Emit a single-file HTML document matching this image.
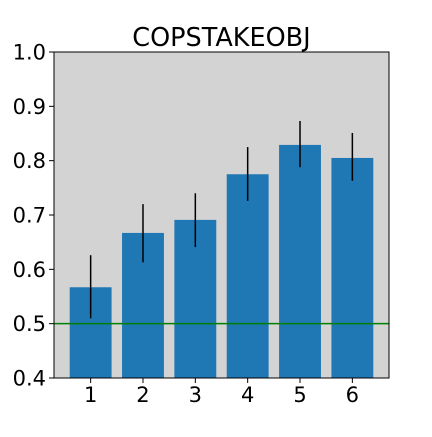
<!DOCTYPE html>
<html><head><meta charset="utf-8"><style>
body{margin:0;background:#fff;}
svg text{font-family:"DejaVu Sans","Liberation Sans",sans-serif;fill:#000;}
</style></head><body>
<svg id="chart" width="432" height="432"></svg>
<script>
const categories=["1","2","3","4","5","6"];
const values=[0.567,0.667,0.691,0.775,0.829,0.805];
const errLow=[0.510,0.613,0.641,0.726,0.788,0.763];
const errHigh=[0.626,0.720,0.740,0.825,0.873,0.851];
const yTicks=[0.4,0.5,0.6,0.7,0.8,0.9,1.0];
const baseline=0.5;
const titleText="COPSTAKEOBJ";

const L=54,R=389,T=52,B=378;
const xMin=0.3,xMax=6.7,yMin=0.4,yMax=1.0;
const xs=v=>L+(v-xMin)/(xMax-xMin)*(R-L);
const ys=v=>B-(v-yMin)/(yMax-yMin)*(B-T);
const svg=document.getElementById('chart');
const NS="http://www.w3.org/2000/svg";
function mk(tag,attrs,parent){const e=document.createElementNS(NS,tag);for(const k in attrs)e.setAttribute(k,attrs[k]);(parent||svg).appendChild(e);return e;}

const bg=mk('rect',{x:L,y:T,width:R-L,height:B-T,fill:'#d3d3d3'});



values.forEach((v,i)=>{
  const c=i+1,w=0.8;
  const b=mk('rect',{x:xs(c-w/2),y:ys(v),width:xs(c+w/2)-xs(c-w/2),height:ys(yMin)-ys(v),fill:'#1f77b4'});
  
  
  const e=mk('line',{x1:xs(c),x2:xs(c),y1:ys(errLow[i]),y2:ys(errHigh[i]),stroke:'#000','stroke-width':1.5});
  
  
});

const bl=mk('line',{x1:L,x2:R,y1:ys(baseline),y2:ys(baseline),stroke:'#008000','stroke-width':1.5});



const fr=mk('rect',{x:L,y:T,width:R-L,height:B-T,fill:'none',stroke:'#000','stroke-width':1});



yTicks.forEach(t=>{
  mk('line',{x1:L-5,x2:L,y1:ys(t),y2:ys(t),stroke:'#000','stroke-width':1});
  const tx=mk('text',{x:L-8,y:ys(t)+7.5,'text-anchor':'end','font-size':21});
  tx.textContent=t.toFixed(1);
  
  
});
categories.forEach((c,i)=>{
  const x=xs(i+1);
  mk('line',{x1:x,x2:x,y1:B,y2:B+5,stroke:'#000','stroke-width':1});
  const tx=mk('text',{x:x,y:B+24,'text-anchor':'middle','font-size':21});
  tx.textContent=c;
  
  
});
const tt=mk('text',{x:(L+R)/2,y:46,'text-anchor':'middle','font-size':25.5});
tt.textContent=titleText;


</script>
</body></html>
